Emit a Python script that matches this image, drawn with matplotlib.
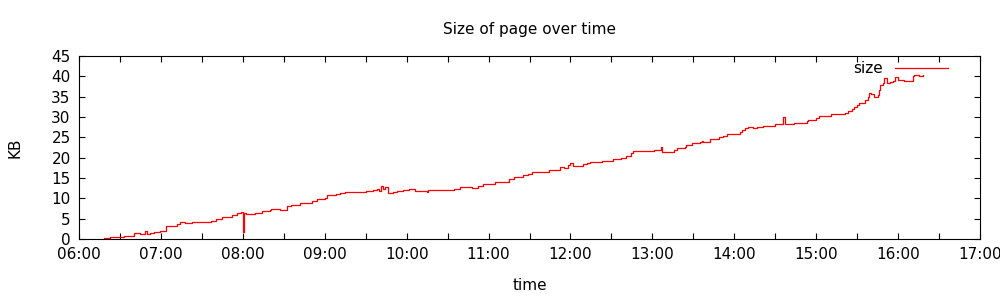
import pandas as pd
import matplotlib
matplotlib.use('Agg')
import matplotlib.pyplot as plt
import matplotlib.dates as mdates

# page size samples (time of day, KB)
times = ['06:18', '06:23', '06:33', '06:40', '06:43', '06:45', '06:48', '06:50', '06:52', '06:55',
         '06:59', '07:04', '07:12', '07:14', '07:18', '07:23', '07:30', '07:37', '07:40', '07:45',
         '07:52', '07:56', '07:59', '08:00', '08:01', '08:02', '08:09', '08:14', '08:20', '08:21',
         '08:27', '08:32', '08:35', '08:40', '08:42', '08:51', '08:54', '09:00', '09:02', '09:08',
         '09:11', '09:15', '09:28', '09:30', '09:35', '09:38', '09:40', '09:41', '09:43', '09:44',
         '09:46', '09:50', '09:53', '09:57', '10:02', '10:06', '10:15', '10:16', '10:34', '10:35',
         '10:39', '10:46', '10:48', '10:52', '10:56', '11:05', '11:14', '11:15', '11:19', '11:25',
         '11:29', '11:32', '11:43', '11:44', '11:51', '11:52', '11:55', '11:58', '12:00', '12:02',
         '12:07', '12:09', '12:12', '12:14', '12:22', '12:23', '12:29', '12:31', '12:36', '12:37',
         '12:41', '12:44', '12:46', '13:00', '13:01', '13:06', '13:07', '13:15', '13:16', '13:18',
         '13:24', '13:25', '13:29', '13:35', '13:36', '13:37', '13:40', '13:42', '13:48', '13:49',
         '13:52', '13:55', '14:03', '14:04', '14:06', '14:08', '14:10', '14:14', '14:17', '14:21',
         '14:28', '14:30', '14:32', '14:35', '14:36', '14:37', '14:43', '14:44', '14:50', '14:53',
         '14:54', '14:59', '15:00', '15:02', '15:09', '15:11', '15:20', '15:21', '15:23', '15:26',
         '15:28', '15:30', '15:31', '15:34', '15:36', '15:38', '15:39', '15:40', '15:42', '15:45',
         '15:46', '15:47', '15:49', '15:50', '15:52', '15:54', '15:56', '15:58', '16:00', '16:04',
         '16:10', '16:11', '16:12', '16:15', '16:18']
sizes = [0.2, 0.4, 0.7, 1.4, 1.6, 1.3, 2.0, 1.2, 1.5, 1.7,
         2.0, 3.3, 3.8, 4.1, 4.0, 4.3, 4.1, 4.5, 4.9, 5.5,
         6.0, 6.5, 6.6, 1.7, 6.3, 6.2, 6.5, 6.8, 7.1, 7.5,
         7.1, 8.1, 8.4, 8.4, 8.9, 9.4, 9.8, 10.2, 10.7, 11.1,
         11.2, 11.5, 11.5, 11.8, 12.0, 12.3, 11.9, 13.0, 12.4, 12.9,
         11.4, 11.6, 11.9, 12.0, 12.3, 11.9, 11.6, 12.0, 12.0, 12.3,
         12.7, 12.9, 12.6, 13.1, 13.5, 14.0, 14.0, 14.8, 15.3, 15.7,
         16.1, 16.5, 16.5, 17.0, 17.0, 17.6, 17.4, 18.2, 18.6, 17.9,
         17.9, 18.4, 18.6, 18.9, 18.9, 19.3, 19.3, 19.6, 19.6, 20.0,
         20.3, 21.1, 21.7, 21.7, 22.0, 22.7, 21.3, 21.3, 22.0, 22.5,
         22.7, 23.1, 23.5, 23.8, 24.2, 23.8, 23.9, 24.5, 24.5, 25.2,
         25.4, 25.8, 25.8, 26.4, 26.8, 27.2, 27.5, 27.2, 27.5, 27.8,
         27.8, 28.3, 28.4, 28.3, 30.1, 28.3, 28.3, 28.6, 28.6, 29.1,
         29.3, 29.3, 29.7, 30.2, 30.2, 30.7, 30.7, 31.1, 31.5, 31.9,
         32.5, 32.9, 33.4, 33.5, 34.2, 35.0, 35.8, 35.6, 35.0, 35.4,
         36.6, 37.9, 38.3, 39.5, 38.4, 38.7, 38.9, 39.9, 39.1, 38.9,
         38.9, 40.1, 40.3, 40.1, 40.3]

day = '2012-01-01 '
x = pd.to_datetime([day + t for t in times])

plt.rcParams['font.family'] = 'DejaVu Sans'
fig = plt.figure(figsize=(10, 3), dpi=100)
ax = fig.add_axes([0.079, 0.2033, 0.901, 0.61])

ax.plot(x, sizes, color='red', lw=0.9, drawstyle='steps-post', label='size')

ax.set_xlim(pd.Timestamp(day + '06:00'), pd.Timestamp(day + '17:00'))
ax.set_ylim(0, 45)
ax.set_yticks(range(0, 46, 5))
ax.xaxis.set_major_locator(mdates.HourLocator())
ax.xaxis.set_minor_locator(mdates.MinuteLocator(byminute=[30]))
ax.xaxis.set_major_formatter(mdates.DateFormatter('%H:%M'))

ax.tick_params(which='both', direction='in', top=True, right=True, length=4, width=0.8,
               labelsize=11, colors='black')
ax.tick_params(axis='x', pad=6)
ax.tick_params(axis='y', pad=6)
for s in ax.spines.values():
    s.set_linewidth(0.8)

ax.set_title('Size of page over time', fontsize=11, pad=16)
ax.set_xlabel('time', fontsize=11, labelpad=11)
ax.set_ylabel('KB', fontsize=11, labelpad=21)

ax.legend(loc='upper right', bbox_to_anchor=(0.975, 1.022), frameon=False, markerfirst=False,
          fontsize=11, handlelength=3.5, handletextpad=0.8, borderaxespad=0.2)

plt.savefig('out.png', dpi=100)
